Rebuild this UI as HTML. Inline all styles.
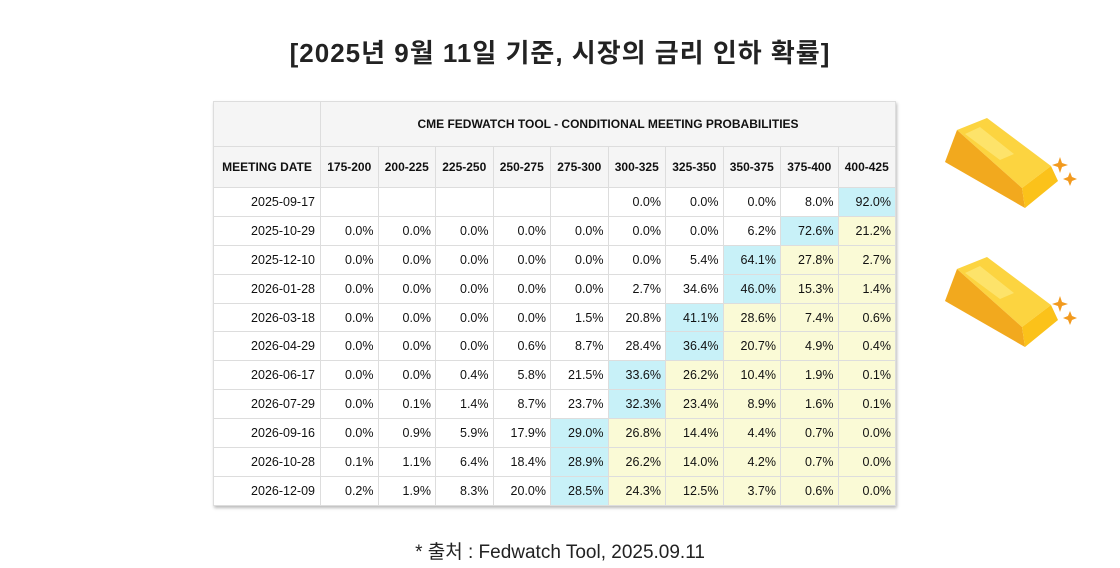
<!DOCTYPE html>
<html><head><meta charset="utf-8"><style>
body{margin:0;width:1120px;height:568px;background:#fff;position:relative;overflow:hidden;font-family:"Liberation Sans","Noto Sans CJK KR",sans-serif}
.title{position:absolute;top:33px;left:0;width:1120px;text-align:center;font-size:26px;font-weight:bold;color:#222;letter-spacing:1px}
.src{position:absolute;top:537px;left:0;width:1120px;text-align:center;font-size:19px;color:#222}
table{position:absolute;left:213px;top:101px;border-collapse:collapse;box-shadow:1px 2px 3px #bbb;font-family:"Liberation Sans",Arial,sans-serif}
td{border:1px solid #ddd;font-size:12.5px;color:#111;text-align:right;padding:0 4px 0 0;height:27.9px;width:52.5px;box-sizing:content-box}
td.d{width:101px;padding-right:5px}
tr.h td{background:#f5f5f5;font-weight:bold;font-size:12px;text-align:center;padding:0}
.b{background:#c8f1f8}.y{background:#fafad6}
</style></head><body>
<div class="title">[2025년 9월 11일 기준, 시장의 금리 인하 확률]</div>
<table>
<tr class="h"><td style="height:44px" class="d"></td><td colspan="10">CME FEDWATCH TOOL - CONDITIONAL MEETING PROBABILITIES</td></tr>
<tr class="h"><td style="height:40px;font-size:12px">MEETING DATE</td><td>175-200</td><td>200-225</td><td>225-250</td><td>250-275</td><td>275-300</td><td>300-325</td><td>325-350</td><td>350-375</td><td>375-400</td><td>400-425</td></tr>
<tr><td class="d">2025-09-17</td><td></td><td></td><td></td><td></td><td></td><td>0.0%</td><td>0.0%</td><td>0.0%</td><td>8.0%</td><td class="b">92.0%</td></tr>
<tr><td class="d">2025-10-29</td><td>0.0%</td><td>0.0%</td><td>0.0%</td><td>0.0%</td><td>0.0%</td><td>0.0%</td><td>0.0%</td><td>6.2%</td><td class="b">72.6%</td><td class="y">21.2%</td></tr>
<tr><td class="d">2025-12-10</td><td>0.0%</td><td>0.0%</td><td>0.0%</td><td>0.0%</td><td>0.0%</td><td>0.0%</td><td>5.4%</td><td class="b">64.1%</td><td class="y">27.8%</td><td class="y">2.7%</td></tr>
<tr><td class="d">2026-01-28</td><td>0.0%</td><td>0.0%</td><td>0.0%</td><td>0.0%</td><td>0.0%</td><td>2.7%</td><td>34.6%</td><td class="b">46.0%</td><td class="y">15.3%</td><td class="y">1.4%</td></tr>
<tr><td class="d">2026-03-18</td><td>0.0%</td><td>0.0%</td><td>0.0%</td><td>0.0%</td><td>1.5%</td><td>20.8%</td><td class="b">41.1%</td><td class="y">28.6%</td><td class="y">7.4%</td><td class="y">0.6%</td></tr>
<tr><td class="d">2026-04-29</td><td>0.0%</td><td>0.0%</td><td>0.0%</td><td>0.6%</td><td>8.7%</td><td>28.4%</td><td class="b">36.4%</td><td class="y">20.7%</td><td class="y">4.9%</td><td class="y">0.4%</td></tr>
<tr><td class="d">2026-06-17</td><td>0.0%</td><td>0.0%</td><td>0.4%</td><td>5.8%</td><td>21.5%</td><td class="b">33.6%</td><td class="y">26.2%</td><td class="y">10.4%</td><td class="y">1.9%</td><td class="y">0.1%</td></tr>
<tr><td class="d">2026-07-29</td><td>0.0%</td><td>0.1%</td><td>1.4%</td><td>8.7%</td><td>23.7%</td><td class="b">32.3%</td><td class="y">23.4%</td><td class="y">8.9%</td><td class="y">1.6%</td><td class="y">0.1%</td></tr>
<tr><td class="d">2026-09-16</td><td>0.0%</td><td>0.9%</td><td>5.9%</td><td>17.9%</td><td class="b">29.0%</td><td class="y">26.8%</td><td class="y">14.4%</td><td class="y">4.4%</td><td class="y">0.7%</td><td class="y">0.0%</td></tr>
<tr><td class="d">2026-10-28</td><td>0.1%</td><td>1.1%</td><td>6.4%</td><td>18.4%</td><td class="b">28.9%</td><td class="y">26.2%</td><td class="y">14.0%</td><td class="y">4.2%</td><td class="y">0.7%</td><td class="y">0.0%</td></tr>
<tr><td class="d">2026-12-09</td><td>0.2%</td><td>1.9%</td><td>8.3%</td><td>20.0%</td><td class="b">28.5%</td><td class="y">24.3%</td><td class="y">12.5%</td><td class="y">3.7%</td><td class="y">0.6%</td><td class="y">0.0%</td></tr>
</table>
<svg width="150" height="100" style="position:absolute;left:930px;top:110px" viewBox="0 0 150 100">
<polygon points="27,20 57,8 121,56 92,78" fill="#fcd440"/>
<polygon points="35,24 50,17 84,44 70,50" fill="#fde36a"/>
<polygon points="27,20 92,78 95,98 15,52" fill="#f2a91e"/>
<polygon points="92,78 121,56 128,71 95,98" fill="#fbc21a"/>
<path d="M130,47 l2,6 6,2 -6,2 -2,6 -2,-6 -6,-2 6,-2z M140,62 l2,5 5,2 -5,2 -2,5 -2,-5 -5,-2 5,-2z" fill="#f29a1e"/>
</svg>
<svg width="150" height="100" style="position:absolute;left:930px;top:249px" viewBox="0 0 150 100">
<polygon points="27,20 57,8 121,56 92,78" fill="#fcd440"/>
<polygon points="35,24 50,17 84,44 70,50" fill="#fde36a"/>
<polygon points="27,20 92,78 95,98 15,52" fill="#f2a91e"/>
<polygon points="92,78 121,56 128,71 95,98" fill="#fbc21a"/>
<path d="M130,47 l2,6 6,2 -6,2 -2,6 -2,-6 -6,-2 6,-2z M140,62 l2,5 5,2 -5,2 -2,5 -2,-5 -5,-2 5,-2z" fill="#f29a1e"/>
</svg>
<div class="src">* 출처 : Fedwatch Tool, 2025.09.11</div>
</body></html>
